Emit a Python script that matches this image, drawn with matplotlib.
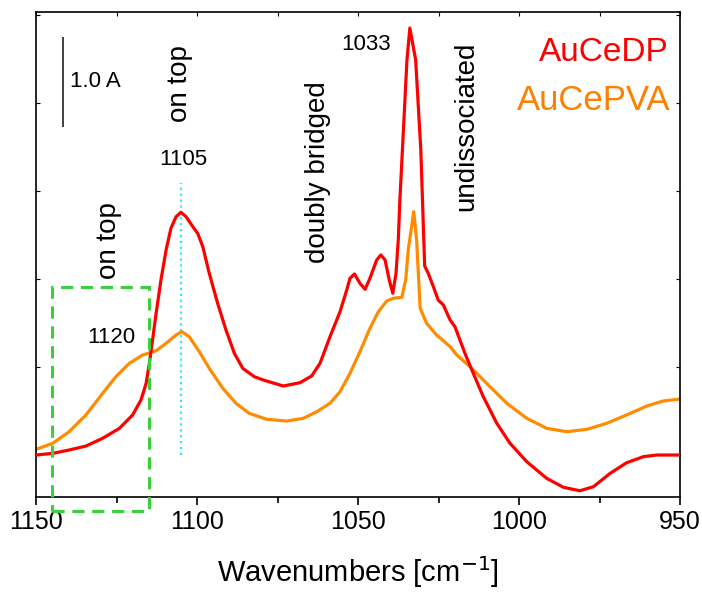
import numpy as np
import matplotlib
matplotlib.use('Agg')
import matplotlib.pyplot as plt
from matplotlib.patches import Rectangle
from matplotlib.ticker import MultipleLocator, NullFormatter

plt.rcParams['font.family'] = ['Liberation Sans', 'DejaVu Sans']

# AuCeDP spectrum (wavenumber, absorbance)
wn_dp = [1150.0, 1144.8, 1139.7, 1134.5, 1129.3, 1124.1, 1120.0, 1117.4, 1115.8, 1114.8,
         1113.8, 1112.7, 1111.2, 1109.6, 1108.1, 1106.5, 1105.0, 1103.4, 1101.3, 1099.8,
         1098.2, 1096.2, 1093.6, 1091.0, 1088.4, 1085.8, 1082.2, 1079.4, 1073.2, 1068.0,
         1064.4, 1061.8, 1058.7, 1055.6, 1053.5, 1052.5, 1051.1, 1049.4, 1047.8, 1046.3,
         1044.2, 1042.9, 1041.6, 1040.3, 1039.2, 1038.2, 1037.5, 1037.0, 1034.8, 1033.9,
         1032.1, 1030.5, 1029.3, 1028.2, 1026.6, 1025.1, 1023.5, 1021.4, 1019.9, 1016.8,
         1014.2, 1011.1, 1006.9, 1002.8, 997.6, 991.4, 986.2, 981.1, 976.9, 971.7,
         966.6, 961.4, 957.2, 950.0]
abs_dp = [0.000, 0.019, 0.057, 0.102, 0.190, 0.303, 0.455, 0.625, 0.815, 1.042,
          1.307, 1.610, 1.989, 2.330, 2.576, 2.708, 2.758, 2.708, 2.594, 2.519,
          2.367, 2.065, 1.724, 1.420, 1.156, 0.985, 0.890, 0.852, 0.784, 0.822,
          0.898, 1.042, 1.344, 1.628, 1.875, 2.008, 2.057, 1.951, 1.883, 2.008,
          2.216, 2.273, 2.216, 1.989, 1.838, 2.065, 2.443, 2.898, 4.489, 4.852,
          4.489, 3.466, 2.148, 2.065, 1.913, 1.761, 1.705, 1.534, 1.458, 1.156,
          0.928, 0.663, 0.360, 0.133, -0.076, -0.265, -0.367, -0.406, -0.360, -0.208,
          -0.088, -0.019, 0.000, 0.000]

# AuCePVA spectrum
wn_pva = [1150.0, 1144.8, 1139.7, 1134.5, 1129.3, 1125.2, 1121.0, 1116.9, 1112.7, 1109.6,
          1106.5, 1104.7, 1102.4, 1099.3, 1096.2, 1092.0, 1087.9, 1083.8, 1078.4, 1072.1,
          1067.0, 1062.8, 1058.7, 1055.6, 1052.5, 1049.4, 1046.3, 1043.7, 1041.1, 1039.0,
          1036.4, 1035.2, 1034.4, 1032.7, 1031.8, 1030.7, 1028.7, 1025.6, 1021.4, 1019.3,
          1014.7, 1009.0, 1003.8, 997.6, 991.4, 985.2, 978.9, 972.8, 966.6, 960.3,
          955.2, 950.0]
abs_pva = [0.065, 0.133, 0.265, 0.455, 0.701, 0.890, 1.042, 1.136, 1.185, 1.269,
           1.364, 1.401, 1.344, 1.174, 0.985, 0.758, 0.588, 0.474, 0.406, 0.386,
           0.417, 0.492, 0.588, 0.719, 0.928, 1.174, 1.440, 1.628, 1.750, 1.781,
           1.792, 1.989, 2.330, 2.765, 2.443, 1.667, 1.497, 1.364, 1.231, 1.136,
           0.985, 0.776, 0.588, 0.417, 0.303, 0.265, 0.292, 0.360, 0.455, 0.557,
           0.614, 0.636]

red = '#ff0000'
orange = '#ff8c00'

fig = plt.figure(figsize=(7.02, 5.93), dpi=100)
ax = fig.add_axes([0.0513, 0.1619, 0.9174, 0.8179])

ax.plot(wn_dp, abs_dp, color=red, lw=2.3, zorder=3, solid_joinstyle='round')
ax.plot(wn_pva, abs_pva, color=orange, lw=2.3, zorder=2, solid_joinstyle='round')

# marker line at 1105 and box around 1120 region
ax.plot([1105, 1105], [0.0, 3.09], color='#33e6ff', ls=':', lw=1.6, zorder=1)
box = Rectangle((1145, -0.636), -30, 2.55, fill=False, ec='#3ccf3c', lw=2.2,
                ls=(0, (4, 2.5)), clip_on=False, zorder=4)
ax.add_patch(box)

# scale bar
ax.plot([1141.6, 1141.6], [3.74, 4.74], color='#404040', lw=1.4)
ax.text(1139.5, 4.24, '1.0 A', fontsize=16, va='center', ha='left')

ax.text(1104.3, 3.36, '1105', fontsize=16, ha='center', va='center')
ax.text(1126.5, 1.33, '1120', fontsize=16, ha='center', va='center')
ax.text(1047.5, 4.66, '1033', fontsize=16, ha='center', va='center')

rot_kw = dict(rotation=90, fontsize=20, ha='center', va='center')
ax.text(1105.3, 4.22, 'on top', **rot_kw)
ax.text(1127.3, 2.44, 'on top', **rot_kw)
ax.text(1062.5, 3.22, 'doubly bridged', **rot_kw)
ax.text(1016.5, 3.74, 'undissociated', **rot_kw)

ax.text(0.982, 0.916, 'AuCeDP', transform=ax.transAxes, color=red, fontsize=24,
        ha='right', va='center')
ax.text(0.985, 0.818, 'AuCePVA', transform=ax.transAxes, color='#ff8000', fontsize=25,
        ha='right', va='center')

ax.set_xlim(1150, 950)
ax.set_ylim(-0.477, 5.034)
ax.xaxis.set_major_locator(MultipleLocator(50))
ax.xaxis.set_minor_locator(MultipleLocator(25))
ax.yaxis.set_major_locator(MultipleLocator(1))
ax.yaxis.set_major_formatter(NullFormatter())
ax.tick_params(axis='x', which='both', direction='out', labelsize=18,
               length=6, width=1.2)
ax.tick_params(axis='x', which='minor', length=4)
ax.tick_params(axis='y', direction='in', left=True, right=True, length=3, width=0.8)
# small inward ticks along the top edge
top = ax.secondary_xaxis('top')
top.xaxis.set_major_locator(MultipleLocator(25))
top.tick_params(direction='in', length=3, width=0.8, labeltop=False)
top.spines['top'].set_visible(False)
for s in ax.spines.values():
    s.set_linewidth(1.2)

ax.set_xlabel('Wavenumbers [cm$^{-1}$]', fontsize=21, labelpad=14)

fig.savefig('out.png', dpi=100)
